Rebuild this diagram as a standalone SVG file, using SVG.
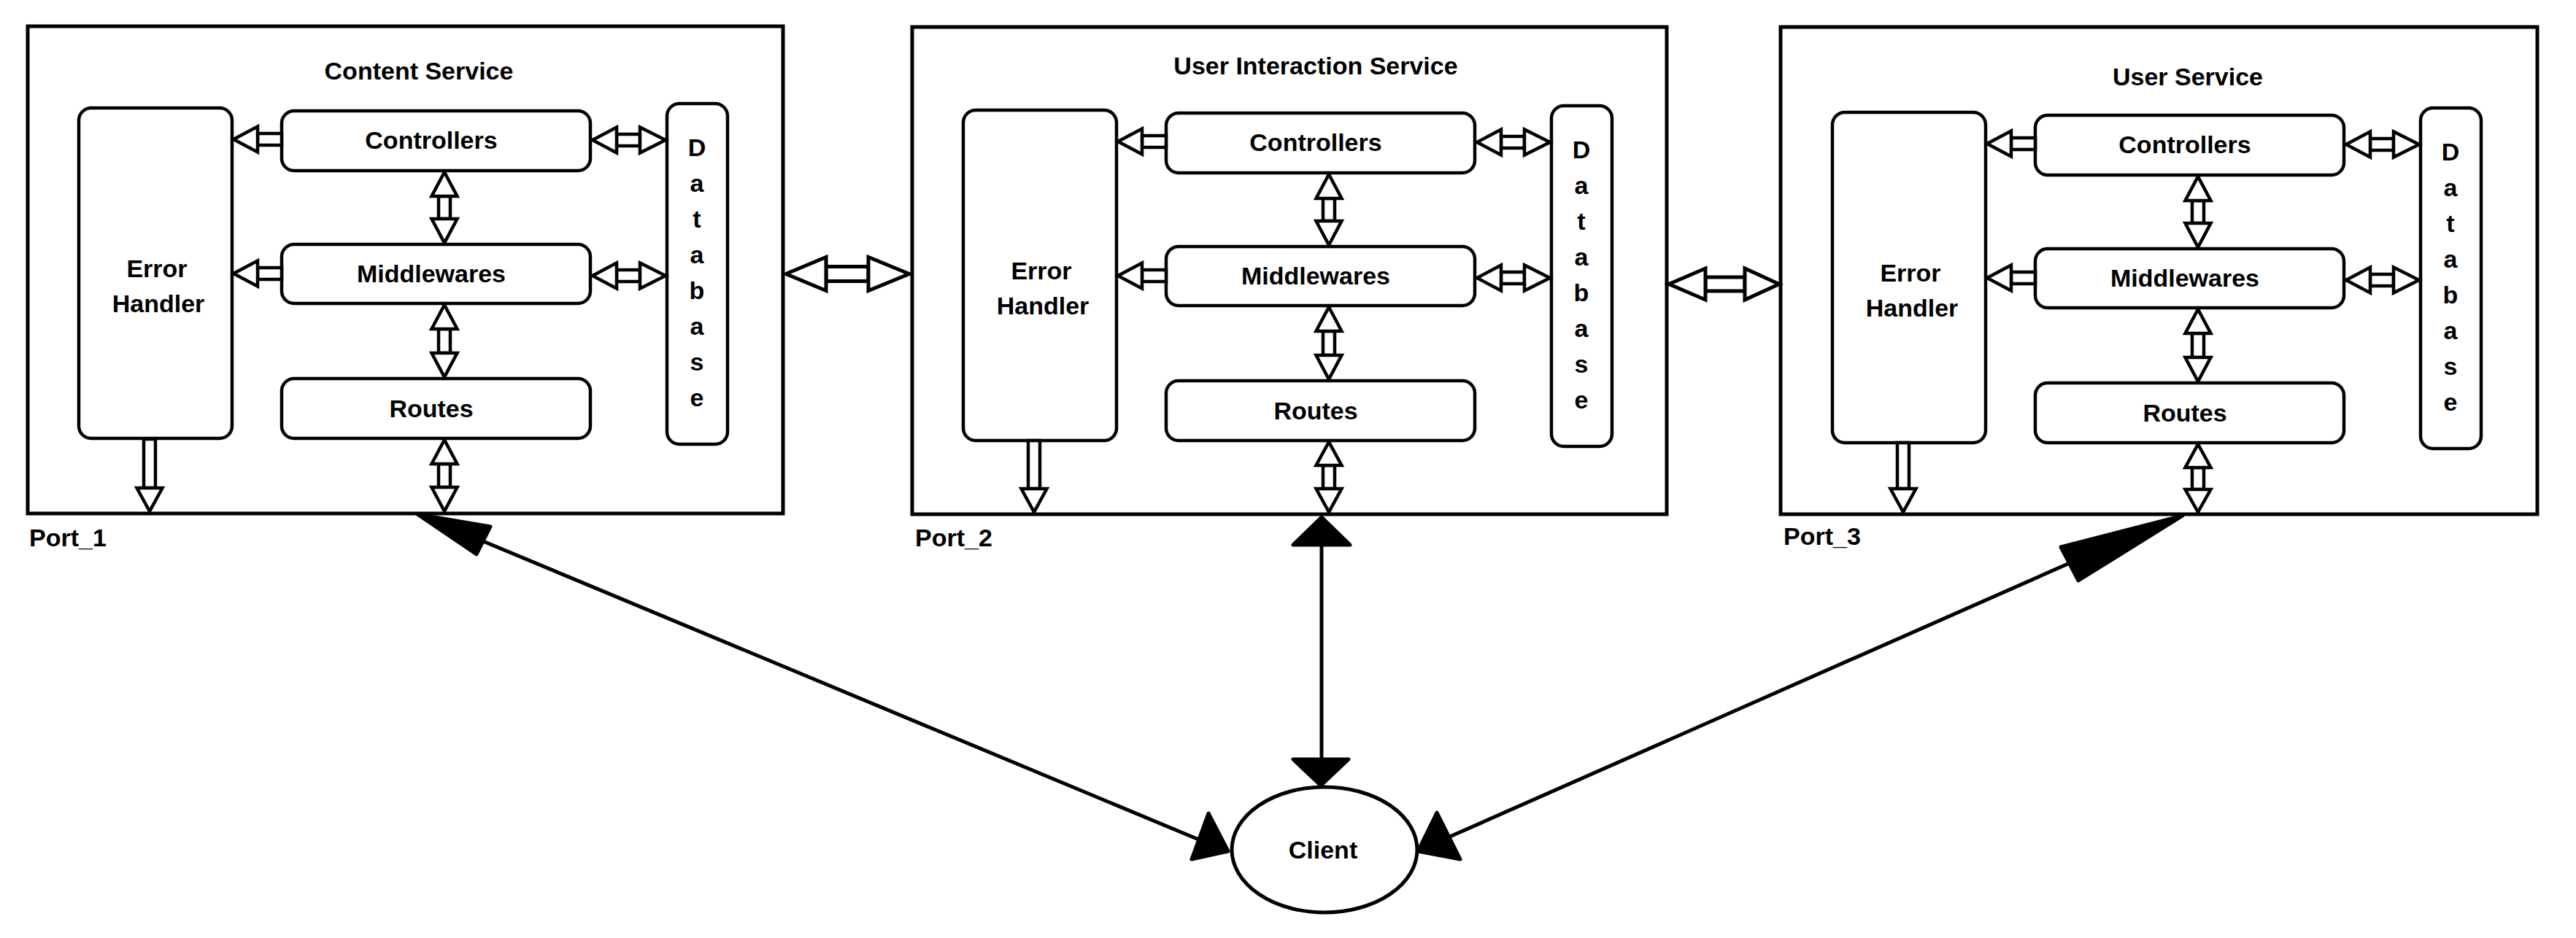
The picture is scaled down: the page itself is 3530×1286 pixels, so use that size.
<svg xmlns="http://www.w3.org/2000/svg" width="3530" height="1286" viewBox="0 0 3530 1286">
<style>
.box{fill:#fff;stroke:#000;stroke-width:5}
.nd{fill:#fff;stroke:#000;stroke-width:4.5}
.t{font-family:"Liberation Sans",Arial,sans-serif;font-weight:bold;font-size:34px;fill:#000}
.m{text-anchor:middle}
.ha{fill:#fff;stroke:#000;stroke-width:4.5;stroke-linejoin:miter}
.ln{fill:none;stroke:#000;stroke-width:5}
.bh{fill:#000;stroke:#000;stroke-width:5;stroke-linejoin:round}
</style>
<rect width="3530" height="1286" fill="#fff"/>

<!-- Service containers -->
<g id="content-service">
<rect class="box" x="38" y="36" width="1035" height="668"/>
<text class="t m" x="574" y="109">Content Service</text>
<text class="t" x="40" y="749">Port_1</text>
</g>
<g id="user-interaction-service">
<rect class="box" x="1250" y="37" width="1034" height="668"/>
<text class="t m" x="1803" y="102">User Interaction Service</text>
<text class="t" x="1254" y="749">Port_2</text>
</g>
<g id="user-service">
<rect class="box" x="2440" y="37" width="1037" height="668"/>
<text class="t m" x="2998" y="117">User Service</text>
<text class="t" x="2444" y="747">Port_3</text>
</g>

<!-- Content service internals -->
<g id="cs-error-handler"><rect class="nd" x="108" y="148" width="210" height="453" rx="17"/><text class="t m" x="215" y="380">Error</text><text class="t m" x="217" y="428">Handler</text></g>
<g id="cs-controllers"><rect class="nd" x="386" y="152" width="423" height="82" rx="17"/><text class="t m" x="591" y="204">Controllers</text></g>
<g id="cs-middlewares"><rect class="nd" x="386" y="335" width="423" height="81" rx="17"/><text class="t m" x="591" y="387">Middlewares</text></g>
<g id="cs-routes"><rect class="nd" x="386" y="519" width="423" height="82" rx="17"/><text class="t m" x="591" y="572">Routes</text></g>
<g id="cs-database"><rect class="nd" x="914" y="142" width="83" height="467" rx="17"/>
<text class="t m" x="955" y="214">D</text><text class="t m" x="955" y="263">a</text><text class="t m" x="955" y="312">t</text><text class="t m" x="955" y="361">a</text><text class="t m" x="955" y="410">b</text><text class="t m" x="955" y="459">a</text><text class="t m" x="955" y="508">s</text><text class="t m" x="955" y="557">e</text></g>

<!-- User interaction service internals -->
<g id="uis-error-handler" transform="translate(1212,3)"><rect class="nd" x="108" y="148" width="210" height="453" rx="17"/><text class="t m" x="215" y="380">Error</text><text class="t m" x="217" y="428">Handler</text></g>
<g id="uis-controllers" transform="translate(1212,3)"><rect class="nd" x="386" y="152" width="423" height="82" rx="17"/><text class="t m" x="591" y="204">Controllers</text></g>
<g id="uis-middlewares" transform="translate(1212,3)"><rect class="nd" x="386" y="335" width="423" height="81" rx="17"/><text class="t m" x="591" y="387">Middlewares</text></g>
<g id="uis-routes" transform="translate(1212,3)"><rect class="nd" x="386" y="519" width="423" height="82" rx="17"/><text class="t m" x="591" y="572">Routes</text></g>
<g id="uis-database" transform="translate(1212,3)"><rect class="nd" x="914" y="142" width="83" height="467" rx="17"/>
<text class="t m" x="955" y="214">D</text><text class="t m" x="955" y="263">a</text><text class="t m" x="955" y="312">t</text><text class="t m" x="955" y="361">a</text><text class="t m" x="955" y="410">b</text><text class="t m" x="955" y="459">a</text><text class="t m" x="955" y="508">s</text><text class="t m" x="955" y="557">e</text></g>

<!-- User service internals -->
<g id="us-error-handler" transform="translate(2403,6)"><rect class="nd" x="108" y="148" width="210" height="453" rx="17"/><text class="t m" x="215" y="380">Error</text><text class="t m" x="217" y="428">Handler</text></g>
<g id="us-controllers" transform="translate(2403,6)"><rect class="nd" x="386" y="152" width="423" height="82" rx="17"/><text class="t m" x="591" y="204">Controllers</text></g>
<g id="us-middlewares" transform="translate(2403,6)"><rect class="nd" x="386" y="335" width="423" height="81" rx="17"/><text class="t m" x="591" y="387">Middlewares</text></g>
<g id="us-routes" transform="translate(2403,6)"><rect class="nd" x="386" y="519" width="423" height="82" rx="17"/><text class="t m" x="591" y="572">Routes</text></g>
<g id="us-database" transform="translate(2403,6)"><rect class="nd" x="914" y="142" width="83" height="467" rx="17"/>
<text class="t m" x="955" y="214">D</text><text class="t m" x="955" y="263">a</text><text class="t m" x="955" y="312">t</text><text class="t m" x="955" y="361">a</text><text class="t m" x="955" y="410">b</text><text class="t m" x="955" y="459">a</text><text class="t m" x="955" y="508">s</text><text class="t m" x="955" y="557">e</text></g>

<!-- Client -->
<g id="client">
<ellipse class="nd" cx="1815" cy="1165" rx="127" ry="86" style="stroke-width:5"/>
<text class="t m" x="1813" y="1177">Client</text>
</g>

<defs>
<g id="inner-arrows">
<!-- Controllers -> Error -->
<rect class="ha" x="353" y="183" width="33" height="16"/>
<polygon class="ha" points="320,191 353,173.5 353,208.5"/>
<!-- Middlewares -> Error -->
<rect class="ha" x="353" y="367" width="33" height="16"/>
<polygon class="ha" points="320,375 353,357.5 353,392.5"/>
<!-- Controllers <-> Database -->
<rect class="ha" x="845" y="184" width="32" height="16"/>
<polygon class="ha" points="812,192 845,174.5 845,209.5"/>
<polygon class="ha" points="912,192 877,174.5 877,209.5"/>
<!-- Middlewares <-> Database -->
<rect class="ha" x="845" y="370" width="32" height="16"/>
<polygon class="ha" points="812,378 845,360.5 845,395.5"/>
<polygon class="ha" points="912,378 877,360.5 877,395.5"/>
<!-- Controllers <-> Middlewares -->
<rect class="ha" x="601" y="269" width="16" height="31"/>
<polygon class="ha" points="609,236 591.5,269 626.5,269"/>
<polygon class="ha" points="609,333 591.5,300 626.5,300"/>
<!-- Middlewares <-> Routes -->
<rect class="ha" x="601" y="451" width="16" height="33"/>
<polygon class="ha" points="609,418 591.5,451 626.5,451"/>
<polygon class="ha" points="609,517 591.5,484 626.5,484"/>
</g>
</defs>

<g id="connectors">
<use href="#inner-arrows"/>
<use href="#inner-arrows" transform="translate(1212,3)"/>
<use href="#inner-arrows" transform="translate(2403,6)"/>

<!-- Routes <-> port (bottom) and Error Handler -> port -->
<rect class="ha" x="601" y="636" width="16" height="32"/>
<polygon class="ha" points="609,603 591.5,636 626.5,636"/>
<polygon class="ha" points="609,701 591.5,668 626.5,668"/>
<rect class="ha" x="197" y="602" width="16" height="67"/>
<polygon class="ha" points="205,701 187.5,669 222.5,669"/>

<rect class="ha" x="1813" y="638" width="16" height="32"/>
<polygon class="ha" points="1821,606 1803.5,638 1838.5,638"/>
<polygon class="ha" points="1821,702 1803.5,670 1838.5,670"/>
<rect class="ha" x="1409" y="604" width="16" height="66"/>
<polygon class="ha" points="1417,702 1399.5,670 1434.5,670"/>

<rect class="ha" x="3004" y="641" width="16" height="30"/>
<polygon class="ha" points="3012,609 2994.5,641 3029.5,641"/>
<polygon class="ha" points="3012,702 2994.5,671 3029.5,671"/>
<rect class="ha" x="2600" y="607" width="16" height="63"/>
<polygon class="ha" points="2608,702 2590.5,670 2625.5,670"/>

<!-- Content <-> User Interaction -->
<rect class="ha" x="1132" y="365.5" width="58" height="20" style="stroke-width:5"/>
<polygon class="ha" points="1077,375.5 1132,352.5 1132,398.5" style="stroke-width:5"/>
<polygon class="ha" points="1246,375.5 1190,352.5 1190,398.5" style="stroke-width:5"/>
<!-- User Interaction <-> User -->
<rect class="ha" x="2337" y="380" width="54" height="19" style="stroke-width:5"/>
<polygon class="ha" points="2287,389.5 2337,368 2337,411" style="stroke-width:5"/>
<polygon class="ha" points="2438,389.5 2391,368 2391,411" style="stroke-width:5"/>

<!-- Client <-> Content -->
<line class="ln" x1="662" y1="742" x2="1645" y2="1152"/>
<polygon class="bh" points="572,705 672,722 653,760"/>
<polygon class="bh" points="1683,1167 1656,1115 1633,1178"/>
<!-- Client <-> User Interaction -->
<line class="ln" x1="1811" y1="745" x2="1811" y2="1042"/>
<polygon class="bh" points="1811,709 1772,747 1850,747"/>
<polygon class="bh" points="1810,1077 1772,1041 1848,1041"/>
<!-- Client <-> User -->
<line class="ln" x1="1980" y1="1150" x2="2836" y2="772"/>
<polygon class="bh" points="2991,707 2824,750 2848,796"/>
<polygon class="bh" points="1943,1167 1969,1114 2001,1178"/>
</g>
</svg>
